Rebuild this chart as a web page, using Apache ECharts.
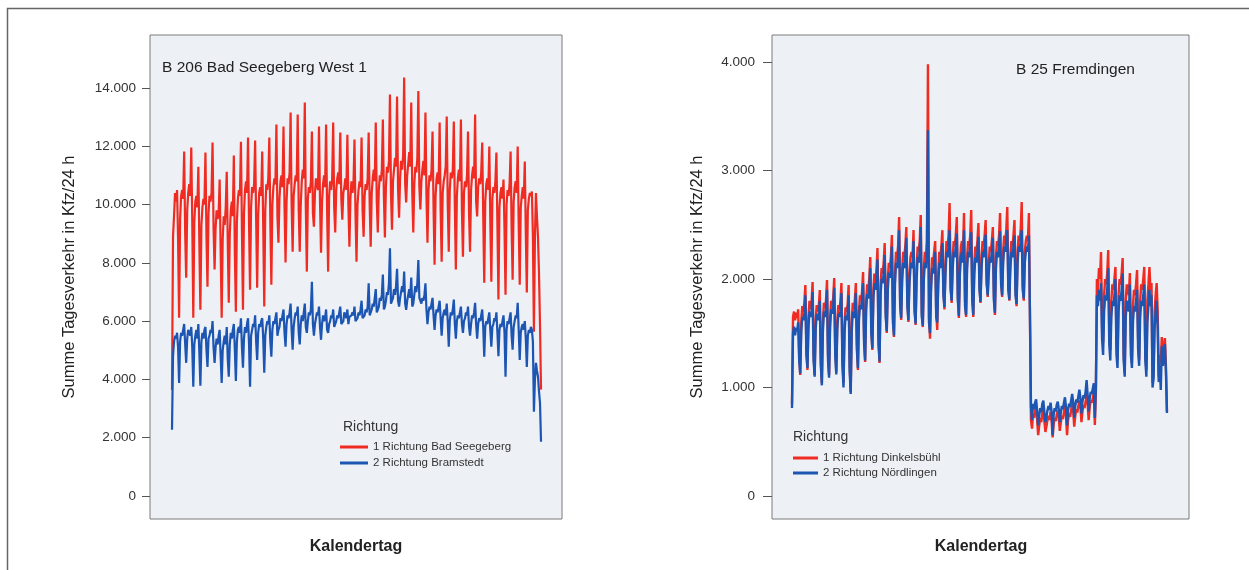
<!DOCTYPE html>
<html>
<head>
<meta charset="utf-8">
<title>Tagesverkehr</title>
<script src="https://cdn.jsdelivr.net/npm/echarts@6/dist/echarts.min.js"></script>
<style>
  html, body { margin: 0; padding: 0; background: #ffffff; }
  #chart { width: 1249px; height: 570px; }
</style>
</head>
<body>
<div id="chart"></div>
<script>
// Daily traffic totals (Kfz/24 h), one value per calendar day, one row per week.

// B 206 Bad Seegeberg West 1 — rows start on Sunday
const badSeegeberg = [
  3640, 8900, 9600, 10400, 10100, 10500, 8800,
  6120, 9500, 10300, 10500, 10200, 11820, 9000,
  7490, 9800, 10400, 10700, 10300, 11960, 9400,
  6120, 9400, 10100, 10300, 9900, 11300, 8600,
  6390, 9300, 9900, 10200, 10000, 11790, 8900,
  7180, 9700, 10300, 10100, 10400, 12130, 9200,
  7770, 9200, 9800, 9500, 9700, 10860, 8400,
  6120, 8800, 9600, 9300, 9900, 11130, 8700,
  6630, 9000, 9800, 10100, 9600, 11680, 8300,
  6320, 9400, 10200, 10500, 10300, 12160, 9100,
  6390, 9700, 10500, 10800, 10400, 12300, 9300,
  7080, 9900, 10600, 10400, 10700, 12200, 9500,
  7150, 9600, 10400, 10600, 10300, 11820, 9200,
  6500, 9800, 10700, 10500, 10900, 12300, 9400,
  7250, 10000, 10600, 10900, 10700, 12750, 9600,
  8690, 10200, 10800, 11000, 10600, 12680, 9900,
  8010, 10100, 10900, 10700, 11100, 13160, 10000,
  8380, 10300, 10700, 11000, 10800, 13090, 9800,
  8380, 10000, 10800, 11200, 10900, 13500, 9900,
  7700, 10200, 10600, 10400, 10800, 12510, 9700,
  9240, 10400, 10900, 10700, 10500, 12680, 10100,
  8350, 10100, 10700, 11000, 10600, 12750, 9800,
  7700, 10300, 10800, 10500, 10900, 12820, 9900,
  9040, 10500, 10900, 11100, 10700, 12470, 10200,
  9480, 10400, 10600, 10900, 10500, 12400, 10000,
  8550, 10200, 10800, 10400, 10700, 12230, 9700,
  8040, 10000, 10500, 10800, 10600, 12300, 9800,
  8900, 10300, 10700, 10500, 10900, 12470, 10000,
  8550, 10400, 10900, 11200, 10800, 12820, 10100,
  9040, 10500, 11000, 10800, 11200, 12920, 10300,
  8870, 10600, 11300, 11100, 11500, 13780, 10400,
  9140, 10800, 11200, 11600, 11300, 13710, 10500,
  9550, 10900, 11500, 11200, 11700, 14360, 10700,
  10070, 11000, 11400, 11800, 11300, 13500, 10400,
  9040, 10700, 11300, 11100, 11600, 13900, 10600,
  9830, 10800, 11200, 11500, 11000, 13160, 10300,
  8690, 10500, 11000, 10800, 11200, 12510, 9900,
  7940, 10300, 10900, 11100, 10700, 12820, 9800,
  8040, 10400, 10800, 11000, 11300, 13020, 10000,
  8380, 10500, 11100, 10900, 11200, 12850, 9900,
  7770, 10300, 10900, 11200, 10800, 12920, 9800,
  8210, 10400, 10800, 10600, 11000, 12510, 9700,
  8380, 10500, 11000, 11300, 10900, 13090, 10100,
  9590, 10600, 10900, 10700, 11100, 12130, 9600,
  7320, 10100, 10700, 10900, 10500, 11990, 9400,
  7350, 10200, 10600, 10400, 10800, 11790, 9300,
  6740, 9900, 10400, 10600, 10200, 10860, 9100,
  6910, 10000, 10500, 10300, 10700, 11820, 9200,
  7420, 10100, 10600, 10800, 10400, 11990, 9300,
  7250, 9900, 10300, 10600, 10200, 11480, 9000,
  6980, 9800, 10200, 10400, 10300, 10450, 8900,
  5640, 8900, 10400, 9600, 8900, 7660, 5900,
  3650
];

const bramstedt = [
  2270, 4800, 5300, 5500, 5400, 5600, 5100,
  3880, 5300, 5600, 5500, 5700, 5900, 5200,
  4570, 5400, 5700, 5600, 5500, 5800, 5100,
  3750, 5200, 5500, 5700, 5400, 5900, 4900,
  3780, 5300, 5600, 5400, 5700, 5800, 5000,
  4430, 5400, 5500, 5700, 5600, 6000, 5100,
  4570, 5100, 5400, 5200, 5500, 5700, 4800,
  3880, 5000, 5300, 5500, 5200, 5800, 4700,
  4090, 5200, 5600, 5400, 5700, 5900, 5000,
  3950, 5300, 5700, 5800, 5600, 6100, 5100,
  4400, 5400, 5800, 5600, 5900, 6100, 5200,
  3750, 5500, 5700, 5900, 5800, 6200, 5300,
  4670, 5600, 5900, 5800, 6000, 6100, 5400,
  4230, 5500, 5800, 6000, 5900, 6200, 5300,
  4780, 5700, 6000, 5900, 6100, 6300, 5500,
  5700, 5800, 6100, 6000, 6200, 6400, 5600,
  5120, 5900, 6200, 6100, 6300, 6600, 5700,
  5020, 5800, 6100, 6300, 6200, 6500, 5600,
  5200, 5900, 6200, 6000, 6300, 6600, 5800,
  5600, 6000, 6300, 6200, 6400, 7350, 5900,
  5500, 5900, 6100, 6300, 6200, 6500, 5800,
  5360, 5900, 6200, 6000, 6100, 6400, 5700,
  5600, 5900, 6000, 6200, 6100, 6400, 5800,
  5800, 6000, 6200, 6100, 6300, 6500, 5900,
  5940, 6000, 6300, 6200, 6100, 6400, 5900,
  6150, 6100, 6200, 6300, 6200, 6500, 6000,
  6050, 6100, 6300, 6200, 6400, 6700, 6100,
  6100, 6200, 6400, 6300, 6500, 7300, 6200,
  6300, 6400, 6600, 6500, 6800, 7100, 6300,
  6390, 6500, 6800, 6700, 6900, 7600, 6400,
  6500, 6700, 7000, 6900, 7300, 8500, 6600,
  6630, 6800, 7100, 6900, 7200, 7800, 6700,
  6500, 6800, 7000, 7200, 7000, 7700, 6600,
  6390, 6700, 6900, 7100, 6800, 7500, 6500,
  6600, 6900, 7200, 7000, 7300, 8100, 6800,
  6740, 6600, 6800, 6700, 6900, 7300, 6400,
  5900, 6300, 6500, 6400, 6600, 6800, 6200,
  5700, 6200, 6400, 6300, 6500, 6700, 6100,
  5500, 6100, 6300, 6400, 6200, 6600, 6000,
  5120, 6000, 6300, 6200, 6400, 6740, 5900,
  5400, 6000, 6200, 6100, 6300, 6500, 5900,
  5600, 6000, 6100, 6300, 6200, 6500, 5800,
  5500, 5900, 6200, 6100, 6300, 6630, 5900,
  5400, 5900, 6100, 6000, 6200, 6400, 5800,
  4780, 5800, 6000, 5900, 6100, 6300, 5700,
  5120, 5800, 5900, 6100, 6000, 6300, 5600,
  4800, 5700, 5900, 5800, 6000, 6200, 5600,
  4090, 5700, 6000, 5900, 6100, 6300, 5500,
  5020, 5800, 6000, 6200, 6100, 6630, 5700,
  4670, 5600, 5800, 5900, 5700, 6000, 5400,
  4430, 5500, 5700, 5600, 5800, 5700, 5300,
  2890, 4000, 4570, 4300, 4100, 3600, 3200,
  1860
];

// B 25 Fremdingen — rows start on Saturday
const dinkelsbuehl = [
  850, 1650, 1700, 1620, 1690, 1640, 1720,
  1300, 1115, 1600, 1750, 1700, 1780, 1945,
  1350, 1161, 1650, 1800, 1720, 1780, 1972,
  1300, 1115, 1620, 1760, 1700, 1740, 1899,
  1250, 1041, 1600, 1780, 1740, 1800, 1990,
  1300, 1115, 1640, 1800, 1760, 1820, 2009,
  1350, 1143, 1620, 1760, 1720, 1790, 1963,
  1250, 1041, 1580, 1740, 1700, 1760, 1945,
  1200, 959, 1600, 1780, 1720, 1800, 1963,
  1400, 1161, 1700, 1850, 1800, 1880, 2064,
  1450, 1235, 1800, 1950, 1900, 2000, 2203,
  1550, 1346, 1900, 2050, 1980, 2080, 2286,
  1450, 1226, 1950, 2100, 2050, 2150, 2332,
  1700, 1502, 2000, 2150, 2100, 2200, 2405,
  1650, 1465, 2050, 2250, 2200, 2300, 2571,
  1800, 1622, 2100, 2250, 2200, 2300, 2479,
  1800, 1604, 2050, 2200, 2250, 2200, 2452,
  1750, 1576, 2100, 2300, 2250, 2350, 2590,
  1700, 1557, 2100, 2250, 2200, 2350, 3980,
  1650, 1450, 2000, 2200, 2150, 2250, 2350,
  1700, 1530, 2050, 2250, 2200, 2300, 2450,
  1900, 1720, 2150, 2350, 2300, 2400, 2700,
  1950, 1780, 2200, 2350, 2300, 2400, 2571,
  1850, 1640, 2150, 2300, 2350, 2250, 2608,
  1800, 1650, 2200, 2350, 2300, 2400, 2636,
  1850, 1650, 2150, 2300, 2250, 2350, 2516,
  1950, 1779, 2200, 2350, 2300, 2400, 2544,
  2000, 1834, 2150, 2300, 2250, 2350, 2479,
  1850, 1668, 2200, 2350, 2300, 2400, 2608,
  2000, 1834, 2250, 2400, 2350, 2450, 2664,
  1950, 1800, 2200, 2350, 2300, 2400, 2544,
  1900, 1750, 2250, 2400, 2350, 2450, 2710,
  1950, 1800, 2250, 2350, 2400, 2350, 2608,
  1650, 700, 620, 760, 720, 780, 820,
  700, 560, 650, 720, 680, 760, 800,
  690, 590, 640, 700, 740, 700, 780,
  700, 540, 660, 720, 690, 750, 790,
  720, 600, 680, 740, 710, 770, 830,
  740, 560, 700, 760, 730, 790, 850,
  780, 640, 740, 800, 770, 830, 880,
  820, 680, 780, 840, 810, 870, 930,
  850, 700, 820, 880, 860, 900, 960,
  654, 950, 2000, 1900, 2100, 2000, 2249,
  1550, 1410, 1850, 2000, 1950, 2050, 2267,
  1500, 1346, 1800, 1950, 1900, 2000, 2111,
  1400, 1253, 1850, 2000, 1950, 2050, 2194,
  1300, 1133, 1800, 1950, 1900, 1850, 2055,
  1400, 1226, 1750, 1900, 1850, 1950, 2083,
  1450, 1253, 1800, 1950, 1900, 2000, 2111,
  1300, 1161, 1800, 1950, 2111, 1900, 1963,
  1041, 1150, 1700, 1850, 1963, 1700, 1100,
  1300, 1226, 1465, 1300, 1350, 1456, 1200,
  780
];

const noerdlingen = [
  811, 1500, 1560, 1480, 1550, 1520, 1600,
  1250, 1130, 1520, 1650, 1620, 1680, 1850,
  1300, 1180, 1560, 1700, 1650, 1700, 1880,
  1250, 1100, 1540, 1680, 1620, 1660, 1800,
  1200, 1020, 1520, 1700, 1650, 1720, 1900,
  1250, 1090, 1560, 1720, 1680, 1740, 1920,
  1300, 1120, 1540, 1680, 1650, 1700, 1870,
  1200, 1000, 1500, 1660, 1620, 1680, 1850,
  1150, 940, 1520, 1700, 1640, 1720, 1870,
  1350, 1180, 1620, 1760, 1720, 1800, 1960,
  1400, 1250, 1720, 1860, 1820, 1900, 2100,
  1500, 1360, 1820, 1960, 1900, 1990, 2180,
  1400, 1240, 1860, 2000, 1960, 2050, 2220,
  1650, 1520, 1900, 2060, 2010, 2100, 2300,
  1600, 1480, 1960, 2150, 2100, 2200, 2450,
  1750, 1640, 2000, 2150, 2100, 2200, 2380,
  1750, 1620, 1960, 2100, 2150, 2100, 2350,
  1700, 1590, 2000, 2200, 2150, 2250, 2480,
  1650, 1570, 2000, 2150, 2100, 2250, 3370,
  1600, 1500, 1900, 2100, 2050, 2150, 2250,
  1650, 1600, 1950, 2150, 2100, 2200, 2330,
  1850, 1740, 2050, 2250, 2200, 2300, 2450,
  1900, 1800, 2100, 2250, 2200, 2300, 2420,
  1800, 1660, 2050, 2200, 2250, 2150, 2450,
  1750, 1670, 2100, 2250, 2200, 2300, 2430,
  1800, 1670, 2050, 2200, 2150, 2250, 2390,
  1900, 1790, 2100, 2250, 2200, 2300, 2410,
  1950, 1850, 2050, 2200, 2150, 2250, 2380,
  1800, 1690, 2100, 2250, 2200, 2300, 2440,
  1950, 1850, 2150, 2300, 2250, 2350, 2450,
  1900, 1810, 2100, 2250, 2200, 2300, 2400,
  1850, 1770, 2150, 2300, 2250, 2350, 2450,
  1900, 1820, 2150, 2250, 2300, 2250, 2400,
  1690, 820, 700, 850, 800, 860, 890,
  780, 650, 740, 810, 770, 850, 880,
  770, 680, 730, 790, 830, 790, 860,
  780, 560, 750, 810, 780, 840, 870,
  800, 680, 770, 830, 800, 860, 910,
  820, 650, 790, 850, 820, 880, 940,
  860, 720, 830, 890, 860, 920, 980,
  900, 760, 870, 930, 900, 960, 1069,
  930, 780, 900, 960, 940, 990, 1040,
  720, 1000, 1850, 1750, 1900, 1800, 1960,
  1450, 1300, 1700, 1850, 1800, 1900, 2100,
  1400, 1250, 1650, 1800, 1750, 1850, 2000,
  1300, 1180, 1700, 1850, 1800, 1900, 2050,
  1250, 1100, 1650, 1800, 1750, 1700, 1950,
  1300, 1180, 1600, 1750, 1700, 1800, 1900,
  1350, 1200, 1650, 1800, 1750, 1850, 1950,
  1250, 1100, 1600, 1750, 1900, 1750, 1850,
  1000, 1080, 1550, 1700, 1800, 1550, 1050,
  1200, 977, 1380, 1200, 1250, 1400, 1150,
  765
];

// Tick values shown on the two count axes
const ticksSeegeberg = [0, 2000, 4000, 6000, 8000, 10000, 12000, 14000];
const ticksFremdingen = [0, 1000, 2000, 3000, 4000];

const namesSeegeberg = ['1 Richtung Bad Seegeberg', '2 Richtung Bramstedt'];
const namesFremdingen = ['1 Richtung Dinkelsbühl', '2 Richtung Nördlingen'];

const RED = '#ef2b22';
const BLUE = '#1c55b2';
const FONT = '"Liberation Sans", Arial, Helvetica, sans-serif';

function thousands(v) {
  return String(v).replace(/\B(?=(\d{3})+(?!\d))/g, '.');
}
function toPoints(arr) {
  return arr.map((v, i) => [i, v]);
}

function yAxisFor(gridIndex, min, max, ticks, margin, tickLen) {
  return {
    type: 'value', gridIndex, min, max, position: 'left',
    splitLine: { show: false },
    axisLine: { show: false, onZero: false },
    axisTick: { show: true, inside: false, length: tickLen, customValues: ticks,
                lineStyle: { color: '#555', width: 1 } },
    axisLabel: { show: true, customValues: ticks, margin, formatter: thousands,
                 color: '#333', fontSize: 13.5, fontFamily: FONT }
  };
}
function xAxisFor(gridIndex, min, max) {
  return {
    type: 'value', gridIndex, min, max,
    axisLine: { show: false, onZero: false }, axisTick: { show: false },
    axisLabel: { show: false }, splitLine: { show: false }
  };
}
function lineSeries(name, data, color, axisIndex, width) {
  return {
    type: 'line', name, data: toPoints(data),
    xAxisIndex: axisIndex, yAxisIndex: axisIndex,
    showSymbol: false, symbol: 'none',
    lineStyle: { color, width },
    itemStyle: { color },
    emphasis: { disabled: true },
    animation: false
  };
}
function text(x, y, str, opts) {
  return Object.assign({
    type: 'text', x, y, silent: true,
    style: Object.assign({ text: str, fill: '#222', font: '15.5px ' + FONT,
                           textAlign: 'left', textVerticalAlign: 'middle' }, opts && opts.style)
  }, opts && opts.el);
}

const chart = echarts.init(document.getElementById('chart'), null, { renderer: 'canvas' });

chart.setOption({
  animation: false,
  backgroundColor: '#ffffff',
  grid: [
    { left: 150, top: 35, width: 412, height: 484, show: true,
      backgroundColor: '#edf1f6', borderColor: '#7a7a7a', borderWidth: 1 },
    { left: 772, top: 35, width: 417, height: 484, show: true,
      backgroundColor: '#edf1f6', borderColor: '#7a7a7a', borderWidth: 1 }
  ],
  xAxis: [ xAxisFor(0, -21.7, 384.7), xAxisFor(1, -19.4, 385.4) ],
  yAxis: [
    yAxisFor(0, -790, 15820, ticksSeegeberg, 14, 8),
    yAxisFor(1, -212, 4249, ticksFremdingen, 17, 9)
  ],
  legend: [
    { data: namesSeegeberg, orient: 'vertical', left: 340, top: 441,
      icon: 'rect', itemWidth: 28, itemHeight: 3, itemGap: 4, padding: 0,
      textStyle: { fontSize: 11.5, fontFamily: FONT, color: '#333' },
      selectedMode: false },
    { data: namesFremdingen, orient: 'vertical', left: 793, top: 452,
      icon: 'rect', itemWidth: 25, itemHeight: 3, itemGap: 3, padding: 0,
      textStyle: { fontSize: 11.5, fontFamily: FONT, color: '#333' },
      selectedMode: false }
  ],
  series: [
    lineSeries(namesSeegeberg[0], badSeegeberg, RED, 0, 2.2),
    lineSeries(namesSeegeberg[1], bramstedt, BLUE, 0, 2.2),
    lineSeries(namesFremdingen[0], dinkelsbuehl, RED, 1, 2.4),
    lineSeries(namesFremdingen[1], noerdlingen, BLUE, 1, 2.4)
  ],
  graphic: [
    // frame around the figure (open to the right and bottom)
    { type: 'polyline', silent: true,
      shape: { points: [[7.5, 570], [7.5, 8.5], [1249, 8.5]] },
      style: { stroke: '#666', lineWidth: 1.5, fill: null } },
    text(162, 68, 'B 206 Bad Seegeberg West 1'),
    text(1016, 70, 'B 25 Fremdingen'),
    text(69, 277, 'Summe Tagesverkehr in Kfz/24 h',
         { style: { font: '16.5px ' + FONT, textAlign: 'center' }, el: { rotation: Math.PI / 2 } }),
    text(697, 277, 'Summe Tagesverkehr in Kfz/24 h',
         { style: { font: '16.5px ' + FONT, textAlign: 'center' }, el: { rotation: Math.PI / 2 } }),
    text(356, 547, 'Kalendertag', { style: { font: 'bold 16px ' + FONT, textAlign: 'center' } }),
    text(981, 547, 'Kalendertag', { style: { font: 'bold 16px ' + FONT, textAlign: 'center' } }),
    text(343, 427, 'Richtung', { style: { font: '14px ' + FONT, fill: '#333' } }),
    text(793, 437, 'Richtung', { style: { font: '14px ' + FONT, fill: '#333' } })
  ]
});
</script>
</body>
</html>
